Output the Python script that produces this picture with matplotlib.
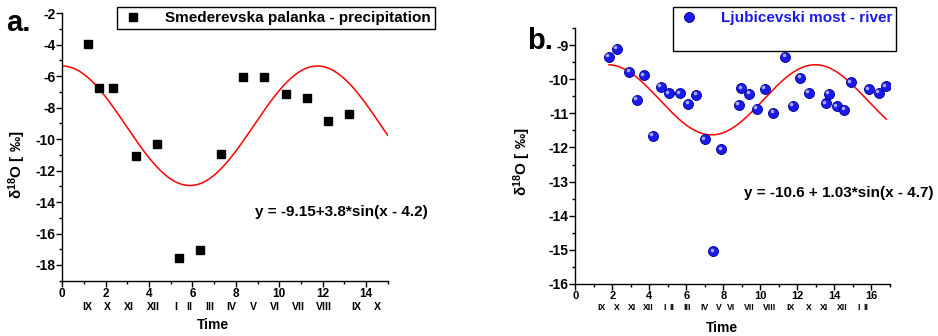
import numpy as np
import matplotlib
matplotlib.use("Agg")
import matplotlib.pyplot as plt
from matplotlib.lines import Line2D
from matplotlib import transforms

plt.rcParams['font.family'] = ['Liberation Sans', 'DejaVu Sans']
plt.rcParams['font.weight'] = 'bold'
plt.rcParams['axes.unicode_minus'] = False
plt.rcParams['mathtext.fontset'] = 'custom'
plt.rcParams['mathtext.rm'] = 'Liberation Sans:bold'
plt.rcParams['mathtext.bf'] = 'Liberation Sans:bold'
plt.rcParams['mathtext.default'] = 'bf'

# ---------------- data: panel a (precipitation) ----------------
a_x = [1.20, 1.68, 2.34, 3.41, 4.38, 5.37, 6.35, 7.32, 8.33, 9.30, 10.30, 11.27, 12.25, 13.23]
a_y = [-3.95, -6.75, -6.75, -11.05, -10.31, -17.58, -17.07, -10.94, -6.03, -6.07, -7.15, -7.38, -8.83, -8.40]
a_fit = dict(offset=-9.15, amp=3.8, period=11.76, peak=0.0, x0=0.0, x1=15.0)
a_months = ['IX', 'X', 'XI', 'XII', 'I', 'II', 'III', 'IV', 'V', 'VI', 'VII', 'VIII', 'IX', 'X']
a_month_x = [1.17, 2.09, 3.05, 4.2, 5.22, 5.84, 6.81, 7.81, 8.81, 9.81, 10.88, 12.07, 13.57, 14.52]

# ---------------- data: panel b (river) ----------------
b_x = [1.82, 2.25, 2.92, 3.34, 3.70, 4.18, 4.62, 5.06, 5.66, 6.11, 6.54, 7.01, 7.46, 7.89,
       8.85, 8.97, 9.41, 9.82, 10.24, 10.69, 11.34, 11.75, 12.16, 12.62, 13.55, 13.68,
       14.11, 14.54, 14.89, 15.84, 16.40, 16.78]
b_y = [-9.33, -9.10, -9.77, -10.60, -9.88, -11.65, -10.21, -10.41, -10.41, -10.72, -10.46,
       -11.76, -15.05, -12.05, -10.74, -10.26, -10.42, -10.86, -10.28, -10.99, -9.34, -10.78,
       -9.95, -10.40, -10.70, -10.43, -10.79, -10.90, -10.09, -10.29, -10.39, -10.20]
b_fit = dict(offset=-10.6, amp=1.03, period=11.2, peak=12.96, x0=1.82, x1=16.8)
b_months = ['IX', 'X', 'XI', 'XII', 'I', 'II', 'III', 'IV', 'V', 'VI', 'VII', 'VIII',
            'IX', 'X', 'XI', 'XII', 'I', 'II']
b_month_x = [1.43, 2.24, 3.05, 3.95, 4.85, 5.21, 6.02, 6.96, 7.73, 8.4, 9.39, 10.52,
             11.6, 12.6, 13.44, 14.4, 15.3, 15.68]

W, H = 938, 336
fig = plt.figure(figsize=(W / 100, H / 100), dpi=100)


def ax_rect(l, r, t, b):
    return [l / W, 1 - b / H, (r - l) / W, (b - t) / H]


def fit_curve(p):
    xs = np.linspace(p['x0'], p['x1'], 400)
    ys = p['offset'] + p['amp'] * np.cos(2 * np.pi * (xs - p['peak']) / p['period'])
    return xs, ys


def style_axes(ax, xsize):
    for s in ['top', 'right']:
        ax.spines[s].set_visible(False)
    for s in ['left', 'bottom']:
        ax.spines[s].set_linewidth(1.0)
    ax.tick_params(axis='both', which='major', direction='out', length=4, width=1)
    ax.tick_params(axis='both', which='minor', direction='out', length=2, width=1)
    ax.tick_params(axis='x', labelsize=xsize, pad=1.5)
    ax.tick_params(axis='y', labelsize=10, pad=1)
    for lab in ax.get_xticklabels() + ax.get_yticklabels():
        lab.set_fontweight('bold')


ylab = 'δ$^{18}$O [ ‰]'

# ---------------- panel a ----------------
ax1 = fig.add_axes(ax_rect(62.3, 387.7, 13.3, 280.7))
ax1.set_xlim(0, 15)
ax1.set_ylim(-19, -2)
ax1.set_xticks(np.arange(0, 15, 2))
ax1.set_xticks(np.arange(0, 16, 1), minor=True)
ax1.set_yticks(np.arange(-18, -1, 2))
ax1.set_yticks(np.arange(-19, -1, 1), minor=True)
style_axes(ax1, 8.5)
xs, ys = fit_curve(a_fit)
ax1.plot(xs, ys, color='red', lw=1.1, zorder=2)
ax1.plot(a_x, a_y, ls='none', marker='s', ms=6.2, color='black', zorder=3,
         label='Smederevska palanka - precipitation')
ax1.set_ylabel(ylab, fontsize=11, fontweight='bold')
ax1.yaxis.set_label_coords(-0.105, 0.433)
ax1.text(0.464, -0.166, 'Time', transform=ax1.transAxes, ha='center', va='center',
         fontsize=10, fontweight='bold')
for m, mx in zip(a_months, a_month_x):
    ax1.text(mx, -0.097, m, transform=ax1.get_xaxis_transform(), ha='center', va='center',
             fontsize=7.6, fontweight='bold')
ax1.text(0.592, 0.256, 'y = -9.15+3.8*sin(x - 4.2)', transform=ax1.transAxes,
         ha='left', va='center', fontsize=11, fontweight='bold')
leg1 = ax1.legend(loc='upper left', bbox_to_anchor=(117.3 / W, 1 - 7.3 / H),
                  bbox_transform=fig.transFigure, borderaxespad=0, fancybox=False,
                  framealpha=1, edgecolor='black', prop={'size': 11, 'weight': 'bold'},
                  handlelength=1.6, handletextpad=1.3, borderpad=0.25)
leg1.get_frame().set_linewidth(1.0)
fig.text(6 / W, 1 - 23 / H, 'a.', fontsize=21, fontweight='bold', ha='left', va='center')

# ---------------- panel b ----------------
ax2 = fig.add_axes(ax_rect(575.3, 890, 28.3, 283.7))
ax2.set_xlim(0, 17)
ax2.set_ylim(-16, -8.5)
ax2.set_xticks(np.arange(0, 17, 2))
ax2.set_xticks(np.arange(0, 18, 1), minor=True)
ax2.set_yticks(np.arange(-16, -8.9, 1))
ax2.set_yticks(np.arange(-16, -8.4, 0.5), minor=True)
style_axes(ax2, 8)
xs, ys = fit_curve(b_fit)
ax2.plot(xs, ys, color='red', lw=1.1, zorder=2)
ax2.plot(b_x, b_y, ls='none', marker='o', ms=7.2, mfc='#1a1aee', mec='#00008a', mew=0.6,
         zorder=3, label='Ljubicevski most - river')
hl = transforms.offset_copy(ax2.transData, fig=fig, x=-1.2, y=1.2, units='points')
ax2.plot(b_x, b_y, ls='none', marker='o', ms=2.6, mfc='#a8a8ff', mec='none',
         zorder=4, transform=hl)
ax2.set_ylabel(ylab, fontsize=11, fontweight='bold')
ax2.yaxis.set_label_coords(-0.133, 0.476)
ax2.text(0.465, -0.172, 'Time', transform=ax2.transAxes, ha='center', va='center',
         fontsize=10, fontweight='bold')
for m, mx in zip(b_months, b_month_x):
    ax2.text(mx, -0.093, m, transform=ax2.get_xaxis_transform(), ha='center', va='center',
             fontsize=6.2, fontweight='bold')
ax2.text(0.536, 0.354, 'y = -10.6 + 1.03*sin(x - 4.7)', transform=ax2.transAxes,
         ha='left', va='center', fontsize=11, fontweight='bold')
blank = Line2D([], [], ls='none', marker=None)
leg2 = ax2.legend(handles=[ax2.lines[1], blank], labels=['Ljubicevski most - river', ' '],
                  loc='upper left', bbox_to_anchor=(672.7 / W, 1 - 7.3 / H),
                  bbox_transform=fig.transFigure, borderaxespad=0, fancybox=False,
                  framealpha=1, edgecolor='black', prop={'size': 11, 'weight': 'bold'},
                  handlelength=1.6, handletextpad=1.3, borderpad=0.25, labelspacing=0.5)
leg2.get_frame().set_linewidth(1.0)
for t in leg2.get_texts():
    t.set_color('#1a1aee')
fig.text(527 / W, 1 - 41 / H, 'b.', fontsize=21, fontweight='bold', ha='left', va='center')

fig.savefig('out.png', dpi=100)
